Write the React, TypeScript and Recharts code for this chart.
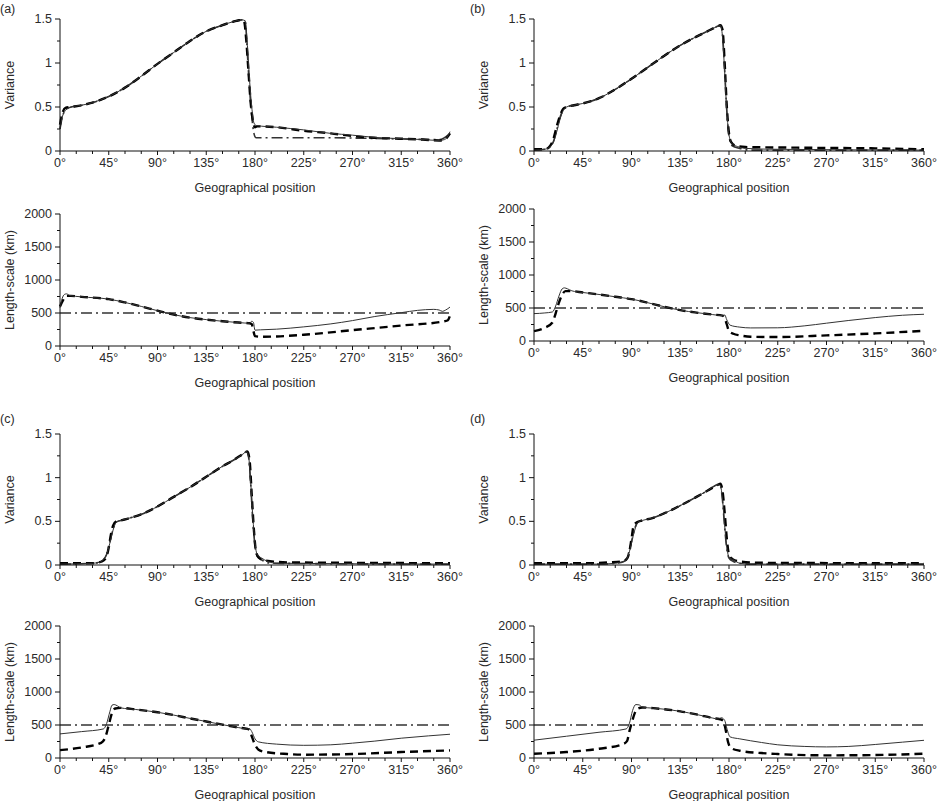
import React from "react";
import { LineChart, Line, XAxis, YAxis, Label } from "recharts";

type Pt = [number, number];

// x axis: geographical position in degrees, minor ticks every 15
const xTicks = [0, 15, 30, 45, 60, 75, 90, 105, 120, 135, 150, 165, 180, 195, 210, 225, 240, 255, 270, 285, 300, 315, 330, 345, 360];
const xMajor = [0, 45, 90, 135, 180, 225, 270, 315, 360];
const varTicks = [0, 0.25, 0.5, 0.75, 1, 1.25, 1.5];
const varMajor = [0, 0.5, 1, 1.5];
const lenTicks = [0, 250, 500, 750, 1000, 1250, 1500, 1750, 2000];
const lenMajor = [0, 500, 1000, 1500, 2000];

// ---- panel (a) ----
const varASolid: Pt[] = [[0, 0.25], [2, 0.38], [5, 0.46], [10, 0.5], [20, 0.52], [30, 0.55], [45, 0.62], [60, 0.72], [75, 0.85], [90, 0.99], [105, 1.12], [120, 1.25], [135, 1.36], [150, 1.43], [160, 1.47], [168, 1.49], [171, 1.48], [173, 1.2], [175, 0.8], [177, 0.5], [179, 0.32], [181, 0.29], [200, 0.27], [225, 0.24], [250, 0.2], [270, 0.18], [290, 0.155], [315, 0.14], [335, 0.13], [350, 0.12], [355, 0.13], [358, 0.17], [360, 0.22]];
const varADashed: Pt[] = [[0, 0.3], [2, 0.42], [5, 0.49], [10, 0.5], [20, 0.52], [30, 0.55], [45, 0.62], [60, 0.72], [75, 0.85], [90, 0.99], [105, 1.12], [120, 1.25], [135, 1.36], [150, 1.43], [160, 1.47], [168, 1.49], [170, 1.47], [172, 1.25], [174, 0.9], [176, 0.55], [178, 0.35], [180, 0.27], [182, 0.28], [200, 0.27], [225, 0.23], [250, 0.2], [270, 0.17], [290, 0.15], [315, 0.14], [335, 0.13], [350, 0.12], [355, 0.13], [360, 0.2]];
const varADashDot: Pt[] = [[0, 0.25], [3, 0.42], [8, 0.49], [20, 0.52], [30, 0.55], [45, 0.62], [60, 0.72], [75, 0.85], [90, 0.99], [105, 1.12], [120, 1.25], [135, 1.36], [150, 1.43], [160, 1.47], [168, 1.49], [171, 1.47], [173, 1.1], [175, 0.7], [177, 0.4], [179, 0.2], [181, 0.15], [200, 0.15], [250, 0.15], [300, 0.14], [350, 0.13], [360, 0.2]];
const lenASolid: Pt[] = [[0, 580], [2, 720], [4, 780], [6, 790], [9, 765], [20, 745], [45, 710], [60, 660], [75, 600], [90, 535], [105, 475], [120, 430], [135, 400], [150, 375], [165, 355], [175, 345], [177, 375], [178.5, 360], [180, 240], [185, 245], [200, 255], [225, 290], [250, 335], [270, 385], [290, 445], [315, 505], [330, 540], [345, 555], [350, 545], [353, 525], [356, 545], [360, 590]];
const lenADashed: Pt[] = [[0, 600], [3, 700], [6, 760], [10, 760], [20, 745], [45, 710], [60, 660], [75, 600], [90, 535], [105, 475], [120, 430], [135, 400], [150, 375], [165, 355], [175, 345], [177, 330], [178.5, 230], [180, 150], [185, 140], [200, 145], [225, 170], [270, 240], [315, 310], [355, 375], [358, 390], [360, 460]];
const lenADashDot: Pt[] = [[0, 500], [360, 500]];

// ---- panel (b) ----
const varBSolid: Pt[] = [[0, 0.01], [10, 0.02], [15, 0.05], [18, 0.1], [21, 0.22], [24, 0.36], [27, 0.46], [30, 0.5], [37, 0.52], [45, 0.54], [60, 0.6], [75, 0.7], [90, 0.82], [105, 0.95], [120, 1.08], [135, 1.2], [150, 1.3], [160, 1.36], [170, 1.42], [172, 1.43], [174, 1.3], [176, 0.9], [178, 0.45], [180, 0.18], [183, 0.08], [188, 0.05], [195, 0.03], [220, 0.02], [360, 0.01]];
const varBDashed: Pt[] = [[0, 0.02], [10, 0.02], [15, 0.06], [18, 0.14], [21, 0.28], [24, 0.4], [27, 0.48], [30, 0.5], [37, 0.52], [45, 0.54], [60, 0.6], [75, 0.7], [90, 0.82], [105, 0.95], [120, 1.08], [135, 1.2], [150, 1.3], [160, 1.36], [170, 1.42], [172, 1.43], [174, 1.38], [176, 1.0], [178, 0.5], [180, 0.2], [182, 0.1], [186, 0.06], [195, 0.045], [225, 0.04], [270, 0.035], [315, 0.03], [360, 0.02]];
const varBDashDot: Pt[] = [[0, 0.01], [10, 0.02], [15, 0.05], [18, 0.11], [21, 0.24], [24, 0.38], [27, 0.47], [30, 0.5], [37, 0.52], [45, 0.54], [60, 0.6], [75, 0.7], [90, 0.82], [105, 0.95], [120, 1.08], [135, 1.2], [150, 1.3], [160, 1.36], [170, 1.42], [172, 1.43], [174, 1.32], [176, 0.92], [178, 0.45], [180, 0.17], [183, 0.06], [190, 0.03], [200, 0.01], [360, 0.01]];
const lenBSolid: Pt[] = [[0, 415], [10, 425], [17, 440], [20, 530], [23, 680], [26, 790], [28, 805], [31, 790], [35, 760], [45, 735], [60, 705], [75, 670], [90, 635], [105, 580], [120, 520], [135, 467], [150, 430], [165, 400], [174, 385], [176, 395], [178, 320], [181, 240], [190, 210], [200, 198], [225, 200], [250, 230], [270, 270], [290, 310], [315, 355], [340, 390], [360, 405]];
const lenBDashed: Pt[] = [[0, 150], [10, 200], [17, 280], [20, 420], [23, 580], [26, 700], [29, 755], [35, 755], [45, 735], [60, 705], [75, 670], [90, 635], [105, 580], [120, 520], [135, 467], [150, 430], [165, 400], [174, 385], [176, 350], [178, 250], [180, 150], [184, 110], [190, 85], [200, 65], [225, 60], [270, 85], [315, 115], [360, 155]];
const lenBDashDot: Pt[] = [[0, 500], [360, 500]];

// ---- panel (c) ----
const varCSolid: Pt[] = [[0, 0.01], [30, 0.02], [36, 0.03], [40, 0.06], [43, 0.12], [46, 0.25], [49, 0.4], [52, 0.49], [56, 0.51], [65, 0.54], [75, 0.58], [90, 0.67], [105, 0.78], [120, 0.89], [135, 1.01], [150, 1.13], [160, 1.2], [170, 1.28], [172, 1.3], [174, 1.25], [176, 0.95], [178, 0.55], [180, 0.25], [182, 0.12], [186, 0.08], [192, 0.04], [200, 0.02], [360, 0.01]];
const varCDashed: Pt[] = [[0, 0.02], [30, 0.02], [36, 0.03], [40, 0.05], [43, 0.1], [45, 0.2], [47, 0.35], [49, 0.45], [52, 0.5], [56, 0.51], [65, 0.54], [75, 0.58], [90, 0.67], [105, 0.78], [120, 0.89], [135, 1.01], [150, 1.13], [160, 1.2], [170, 1.28], [173, 1.3], [175, 1.2], [177, 0.8], [179, 0.4], [181, 0.15], [184, 0.08], [190, 0.05], [210, 0.03], [270, 0.025], [360, 0.02]];
const varCDashDot: Pt[] = [[0, 0.01], [30, 0.02], [36, 0.03], [40, 0.06], [43, 0.12], [46, 0.26], [49, 0.41], [52, 0.49], [56, 0.51], [65, 0.54], [75, 0.58], [90, 0.67], [105, 0.78], [120, 0.89], [135, 1.01], [150, 1.13], [160, 1.2], [170, 1.28], [172, 1.3], [174, 1.24], [176, 0.93], [178, 0.5], [180, 0.22], [182, 0.1], [186, 0.06], [195, 0.02], [360, 0.01]];
const lenCSolid: Pt[] = [[0, 365], [20, 400], [40, 440], [43, 520], [46, 700], [48, 800], [50, 810], [53, 790], [56, 760], [70, 735], [90, 693], [105, 650], [120, 600], [135, 553], [150, 505], [165, 460], [173, 440], [175, 445], [177, 400], [180, 290], [183, 245], [200, 210], [225, 192], [250, 200], [270, 225], [290, 255], [315, 300], [340, 335], [360, 360]];
const lenCDashed: Pt[] = [[0, 120], [20, 160], [38, 230], [42, 320], [45, 500], [48, 680], [51, 750], [56, 760], [70, 735], [90, 693], [105, 650], [120, 600], [135, 553], [150, 505], [165, 460], [173, 440], [175, 420], [177, 330], [180, 200], [183, 130], [190, 90], [210, 60], [225, 50], [270, 60], [315, 90], [360, 115]];
const lenCDashDot: Pt[] = [[0, 500], [360, 500]];

// ---- panel (d) ----
const varDSolid: Pt[] = [[0, 0.01], [60, 0.01], [75, 0.02], [83, 0.04], [86, 0.08], [88, 0.15], [90, 0.25], [93, 0.4], [96, 0.49], [100, 0.51], [110, 0.54], [120, 0.59], [135, 0.68], [150, 0.78], [160, 0.85], [170, 0.92], [172, 0.91], [174, 0.75], [176, 0.45], [178, 0.2], [180, 0.09], [184, 0.06], [190, 0.02], [200, 0.01], [360, 0.01]];
const varDDashed: Pt[] = [[0, 0.02], [45, 0.02], [70, 0.03], [80, 0.04], [85, 0.06], [88, 0.15], [90, 0.3], [92, 0.45], [95, 0.49], [100, 0.51], [110, 0.54], [120, 0.59], [135, 0.68], [150, 0.78], [160, 0.85], [170, 0.92], [172, 0.93], [174, 0.85], [176, 0.6], [178, 0.3], [180, 0.12], [183, 0.07], [190, 0.04], [210, 0.025], [360, 0.02]];
const varDDashDot: Pt[] = [[0, 0.01], [60, 0.01], [75, 0.02], [83, 0.04], [86, 0.09], [88, 0.17], [90, 0.27], [93, 0.42], [96, 0.49], [100, 0.51], [110, 0.54], [120, 0.59], [135, 0.68], [150, 0.78], [160, 0.85], [170, 0.92], [172, 0.91], [174, 0.74], [176, 0.43], [178, 0.18], [180, 0.08], [184, 0.04], [190, 0.02], [200, 0.01], [360, 0.01]];
const lenDSolid: Pt[] = [[0, 270], [30, 330], [60, 390], [85, 440], [88, 520], [91, 720], [94, 810], [97, 805], [100, 770], [110, 755], [120, 740], [135, 707], [150, 660], [165, 605], [170, 590], [173, 610], [176, 570], [178, 450], [181, 320], [190, 290], [210, 235], [225, 200], [250, 175], [270, 168], [290, 175], [315, 205], [340, 240], [360, 268]];
const lenDDashed: Pt[] = [[0, 65], [30, 90], [60, 140], [82, 210], [86, 260], [88, 400], [90, 520], [93, 680], [96, 750], [100, 765], [110, 755], [120, 740], [135, 707], [150, 660], [165, 605], [173, 580], [175, 560], [177, 420], [179, 250], [182, 150], [190, 110], [210, 75], [225, 60], [270, 40], [315, 45], [360, 65]];
const lenDDashDot: Pt[] = [[0, 500], [360, 500]];

const FONT = "'Liberation Sans', Arial, Helvetica, sans-serif";
const TEXT = "#2a2a2a";
const FS = 12.5;

const toRows = (pts: Pt[]) => pts.map(([x, y]) => ({ x, y }));

const XTick = (props: any) => {
  const { x, y, payload } = props;
  const major = xMajor.includes(payload.value);
  return (
    <g>
      <line x1={x} x2={x} y1={y} y2={y + (major ? 4 : 3)} stroke="#111" strokeWidth={1} />
      {major && (
        <text x={x} y={y + 16} textAnchor="middle" fontSize={FS} fontFamily={FONT} fill={TEXT}>
          {payload.value}°
        </text>
      )}
    </g>
  );
};

const makeYTick = (majors: number[]) => (props: any) => {
  const { x, y, payload } = props;
  const major = majors.includes(payload.value);
  return (
    <g>
      <line x1={x - (major ? 5 : 3)} x2={x} y1={y} y2={y} stroke="#111" strokeWidth={1} />
      {major && (
        <text x={x - 8} y={y + 4} textAnchor="end" fontSize={FS} fontFamily={FONT} fill={TEXT}>
          {payload.value}
        </text>
      )}
    </g>
  );
};

const VarTick = makeYTick(varMajor);
const LenTick = makeYTick(lenMajor);

type PanelProps = {
  left: number;
  top: number;
  plotLeft: number;
  plotTop: number;
  plotBottom: number;
  kind: "var" | "len";
  solid: Pt[];
  dashed: Pt[];
  dashDot: Pt[];
};

function Panel({ left, top, plotLeft, plotTop, plotBottom, kind, solid, dashed, dashDot }: PanelProps) {
  const axisW = plotLeft - left;
  const plotW = 390;
  const width = axisW + plotW + 20;
  const height = plotBottom - top + 45;
  const isVar = kind === "var";
  return (
    <div style={{ position: "absolute", left, top }}>
      <LineChart width={width} height={height} margin={{ top: plotTop - top, right: 20, bottom: 0, left: 0 }}>
        <XAxis
          type="number"
          dataKey="x"
          domain={[0, 360]}
          ticks={xTicks}
          interval={0}
          tick={<XTick />}
          tickLine={false}
          tickSize={0}
          tickMargin={0}
          height={45}
          axisLine={{ stroke: "#111", strokeWidth: 1 }}
          allowDuplicatedCategory={false}
        >
          <Label
            value="Geographical position"
            position="insideBottom"
            offset={4}
            style={{ fontSize: FS, fontFamily: FONT, fill: TEXT }}
          />
        </XAxis>
        <YAxis
          type="number"
          dataKey="y"
          domain={isVar ? [0, 1.5] : [0, 2000]}
          ticks={isVar ? varTicks : lenTicks}
          interval={0}
          tick={isVar ? <VarTick /> : <LenTick />}
          tickLine={false}
          tickSize={0}
          tickMargin={0}
          width={axisW}
          axisLine={{ stroke: "#111", strokeWidth: 1 }}
          allowDataOverflow
        >
          <Label
            value={isVar ? "Variance" : "Length-scale (km)"}
            angle={-90}
            position="insideLeft"
            offset={axisW - 50}
            style={{ fontSize: FS, fontFamily: FONT, fill: TEXT, textAnchor: "middle" }}
          />
        </YAxis>
        <Line
          data={toRows(dashDot)}
          dataKey="y"
          type="monotone"
          stroke="#333"
          strokeWidth={1.6}
          strokeDasharray="11 4 2 4"
          dot={false}
          isAnimationActive={false}
        />
        <Line
          data={toRows(dashed)}
          dataKey="y"
          type="monotone"
          stroke="#000"
          strokeWidth={2.4}
          strokeDasharray="8 5"
          dot={false}
          isAnimationActive={false}
        />
        <Line
          data={toRows(solid)}
          dataKey="y"
          type="monotone"
          stroke="#333"
          strokeWidth={1}
          dot={false}
          isAnimationActive={false}
        />
      </LineChart>
    </div>
  );
}

const tagStyle: React.CSSProperties = {
  position: "absolute",
  fontSize: FS,
  fontFamily: FONT,
  color: TEXT,
  lineHeight: "14px",
};

export default function App() {
  return (
    <div style={{ position: "absolute", left: 0, top: 0, width: 939, height: 801, background: "#fff", overflow: "hidden" }}>
      <div style={{ ...tagStyle, left: 0, top: 2 }}>(a)</div>
      <div style={{ ...tagStyle, left: 470, top: 2 }}>(b)</div>
      <div style={{ ...tagStyle, left: 0, top: 412 }}>(c)</div>
      <div style={{ ...tagStyle, left: 470, top: 412 }}>(d)</div>

      <Panel left={0} top={0} plotLeft={60} plotTop={19} plotBottom={151} kind="var" solid={varASolid} dashed={varADashed} dashDot={varADashDot} />
      <Panel left={0} top={200} plotLeft={60} plotTop={214} plotBottom={346} kind="len" solid={lenASolid} dashed={lenADashed} dashDot={lenADashDot} />
      <Panel left={470} top={0} plotLeft={534} plotTop={19} plotBottom={151} kind="var" solid={varBSolid} dashed={varBDashed} dashDot={varBDashDot} />
      <Panel left={470} top={200} plotLeft={534} plotTop={209} plotBottom={341} kind="len" solid={lenBSolid} dashed={lenBDashed} dashDot={lenBDashDot} />
      <Panel left={0} top={410} plotLeft={60} plotTop={434} plotBottom={565} kind="var" solid={varCSolid} dashed={varCDashed} dashDot={varCDashDot} />
      <Panel left={0} top={610} plotLeft={60} plotTop={626} plotBottom={758} kind="len" solid={lenCSolid} dashed={lenCDashed} dashDot={lenCDashDot} />
      <Panel left={470} top={410} plotLeft={534} plotTop={434} plotBottom={565} kind="var" solid={varDSolid} dashed={varDDashed} dashDot={varDDashDot} />
      <Panel left={470} top={610} plotLeft={534} plotTop={626} plotBottom={758} kind="len" solid={lenDSolid} dashed={lenDDashed} dashDot={lenDDashDot} />
    </div>
  );
}
